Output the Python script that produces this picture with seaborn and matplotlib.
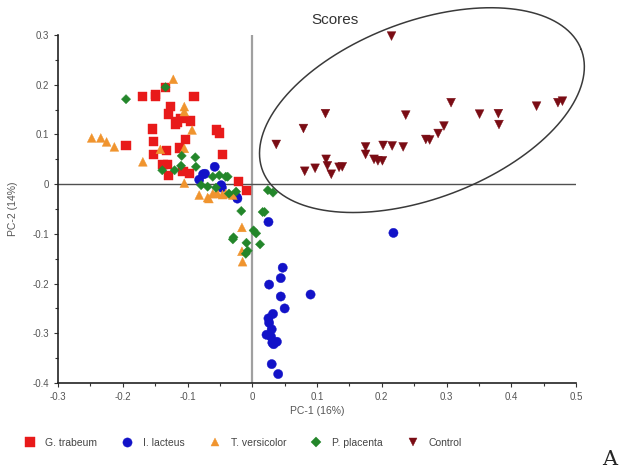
import numpy as np
import pandas as pd
import seaborn as sns
import matplotlib.pyplot as plt

# PCA score coordinates per group
gt_pc1 = [-0.134, -0.170, -0.149, -0.150, -0.090, -0.126, -0.129, -0.110, -0.115, -0.118,
          -0.096, -0.154, -0.055, -0.051, -0.195, -0.152, -0.103, -0.113, -0.133, -0.152,
          -0.046, -0.138, -0.131, -0.129, -0.107, -0.097, -0.021, -0.009]
gt_pc2 = [0.195, 0.176, 0.181, 0.177, 0.176, 0.156, 0.141, 0.132, 0.125, 0.121,
          0.127, 0.111, 0.109, 0.103, 0.078, 0.086, 0.090, 0.073, 0.067, 0.059,
          0.060, 0.039, 0.039, 0.017, 0.025, 0.022, 0.005, -0.013]

il_pc1 = [0.218, 0.025, 0.047, 0.044, 0.026, 0.044, 0.090, 0.050, 0.032, 0.025,
          0.026, 0.030, 0.022, 0.029, 0.031, 0.038, 0.033, 0.030, 0.040,
          -0.058, -0.076, -0.082, -0.073, -0.048, -0.024, -0.047, -0.023]
il_pc2 = [-0.098, -0.076, -0.168, -0.189, -0.202, -0.226, -0.222, -0.250, -0.261, -0.270,
          -0.279, -0.292, -0.303, -0.307, -0.319, -0.317, -0.322, -0.362, -0.382,
          0.035, 0.020, 0.009, 0.021, -0.002, -0.026, -0.007, -0.029]

tv_pc1 = [-0.122, -0.105, -0.105, -0.093, -0.248, -0.234, -0.225, -0.213, -0.169, -0.142,
          -0.105, -0.105, -0.082, -0.069, -0.056, -0.046, -0.036, -0.030, -0.067, -0.061,
          -0.054, -0.041, -0.016, -0.016, -0.015]
tv_pc2 = [0.211, 0.156, 0.146, 0.109, 0.093, 0.093, 0.085, 0.075, 0.045, 0.070,
          0.072, 0.002, -0.022, -0.027, -0.019, -0.021, -0.019, -0.022, -0.029, -0.019,
          -0.018, -0.019, -0.087, -0.135, -0.156]

pp_pc1 = [-0.195, -0.134, -0.088, -0.087, -0.109, -0.110, -0.139, -0.120, -0.079, -0.061,
          -0.051, -0.041, -0.069, -0.056, -0.036, -0.025, -0.017, 0.019, 0.024, 0.032,
          0.016, -0.029, -0.030, -0.009, -0.007, -0.010, 0.002, 0.006, 0.012, -0.038]
pp_pc2 = [0.171, 0.195, 0.054, 0.035, 0.057, 0.037, 0.028, 0.028, -0.002, 0.015,
          0.018, 0.015, -0.005, -0.007, -0.019, -0.015, -0.054, -0.056, -0.012, -0.017,
          -0.056, -0.107, -0.111, -0.118, -0.134, -0.140, -0.093, -0.099, -0.121, 0.015]

ct_pc1 = [0.215, 0.037, 0.079, 0.113, 0.081, 0.097, 0.114, 0.116, 0.122, 0.134,
          0.139, 0.175, 0.175, 0.188, 0.194, 0.201, 0.202, 0.216, 0.233, 0.237,
          0.268, 0.274, 0.287, 0.296, 0.307, 0.351, 0.380, 0.381, 0.439, 0.472, 0.479]
ct_pc2 = [0.298, 0.080, 0.112, 0.142, 0.026, 0.032, 0.050, 0.037, 0.020, 0.034,
          0.035, 0.075, 0.060, 0.050, 0.047, 0.047, 0.078, 0.077, 0.075, 0.139,
          0.090, 0.089, 0.102, 0.117, 0.164, 0.141, 0.142, 0.120, 0.157, 0.164, 0.167]

groups = ["G. trabeum", "I. lacteus", "T. versicolor", "P. placenta", "Control"]
colors = ["#e81a1a", "#1212c8", "#f0942e", "#23862a", "#7a0c14"]
markers = ["s", "o", "^", "D", "v"]
marker_sizes = [44, 44, 40, 22, 40]

# Control-group confidence ellipse: centre and conjugate half-axes (data units)
ell_center = (0.262, 0.149)
ell_u = (0.246, 0.122)
ell_v = (-0.049, 0.166)

frames = []
for name, xs, ys in zip(groups,
                        [gt_pc1, il_pc1, tv_pc1, pp_pc1, ct_pc1],
                        [gt_pc2, il_pc2, tv_pc2, pp_pc2, ct_pc2]):
    frames.append(pd.DataFrame({"PC1": xs, "PC2": ys, "Group": name}))
df = pd.concat(frames, ignore_index=True)

sns.set_style("white")
plt.rcParams["font.family"] = ["Liberation Sans", "DejaVu Sans"]

fig = plt.figure(figsize=(6.26, 4.74), dpi=100)
ax = fig.add_axes([0.0927, 0.192, 0.8275, 0.734])

ax.axvline(0, color="#a0a0a0", lw=1.6, zorder=1)
ax.axhline(0, color="#505050", lw=1.0, zorder=1)

sns.scatterplot(data=df, x="PC1", y="PC2", hue="Group", style="Group", size="Group",
                hue_order=groups, style_order=groups, size_order=groups,
                palette=dict(zip(groups, colors)),
                markers=dict(zip(groups, markers)),
                sizes=dict(zip(groups, marker_sizes)),
                linewidth=0.3, edgecolor="face", ax=ax, zorder=3,
                clip_on=False)

t = np.linspace(0, 2 * np.pi, 300)
ex = ell_center[0] + ell_u[0] * np.cos(t) + ell_v[0] * np.sin(t)
ey = ell_center[1] + ell_u[1] * np.cos(t) + ell_v[1] * np.sin(t)
ax.plot(ex, ey, color="#3a3a3a", lw=1.1, zorder=2, clip_on=False)

ax.set_xlim(-0.3, 0.5)
ax.set_ylim(-0.4, 0.3)
ax.set_xticks(np.arange(-0.3, 0.51, 0.1))
ax.set_xticklabels(["-0.3", "-0.2", "-0.1", "0", "0.1", "0.2", "0.3", "0.4", "0.5"])
ax.set_yticks(np.arange(-0.4, 0.31, 0.1))
ax.set_yticklabels(["-0.4", "-0.3", "-0.2", "-0.1", "0", "0.1", "0.2", "0.3"])
ax.set_xticks(np.arange(-0.25, 0.5, 0.1), minor=True)
ax.set_yticks(np.arange(-0.35, 0.3, 0.1), minor=True)
ax.tick_params(which="both", direction="out", length=3, width=0.8, color="#333333",
               labelsize=7, labelcolor="#555555", left=True, bottom=True)
ax.tick_params(which="minor", length=2)

for side in ["top", "right"]:
    ax.spines[side].set_visible(False)
for side in ["left", "bottom"]:
    ax.spines[side].set_color("#222222")
    ax.spines[side].set_linewidth(1.2)

ax.set_xlabel("PC-1 (16%)", fontsize=7.5, color="#555555", labelpad=3)
ax.set_ylabel("PC-2 (14%)", fontsize=7.5, color="#555555", labelpad=10)

fig.text(0.535, 0.958, "Scores", fontsize=11, color="#333333", ha="center", va="center")

sns.move_legend(ax, "center left", bbox_to_anchor=(-0.085, -0.172), ncol=5,
                frameon=False, title=None, fontsize=7.5, handletextpad=0.9,
                handlelength=1.2, columnspacing=2.3, markerscale=1.0)
for txt in ax.get_legend().get_texts():
    txt.set_color("#444444")

fig.text(0.974, 0.03, "A", fontsize=15, family="DejaVu Serif", ha="center", va="center")

fig.savefig("out.png", dpi=100)
